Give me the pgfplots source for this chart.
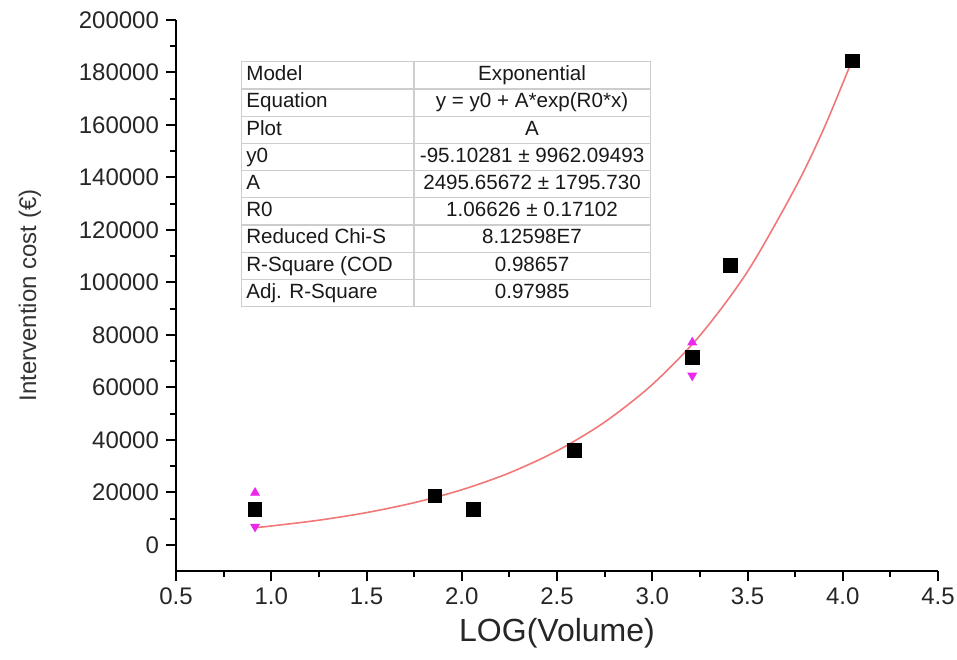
\documentclass[border=0pt]{standalone}
\usepackage{fontspec}
\setmainfont{Liberation Sans}
\usepackage{pgfplots}
\pgfplotsset{compat=1.18}
\usepackage{array}
\usepackage{colortbl}
\definecolor{fitred}{RGB}{240,120,120}
\definecolor{tblgray}{RGB}{205,205,205}
\definecolor{errmag}{RGB}{235,40,235}

% measured points
\pgfplotstableread{
x     y
0.915 13400
1.86  18700
2.06  13400
2.59  35900
3.21  71400
3.41  106500
4.05  184400
}\points

% fitted exponential curve read along its path
\pgfplotstableread{
x     y
0.915 6525
1.00  7153
1.25  9368
1.50  12259
1.75  16033
2.00  20959
2.25  27389
2.50  35787
2.75  46748
3.00  61060
3.25  79740
3.50  104123
3.75  135945
3.90  158500
4.04  183000
}\fit

\newcommand{\rs}{\rule[-3.8pt]{0pt}{13pt}}
\newcommand{\cc}[1]{\makebox[\linewidth][c]{#1}}

\begin{document}
\begin{tikzpicture}
\begin{axis}[
  scale only axis,
  width=381pt, height=275.5pt,
  xmin=0.5, xmax=4.5, ymin=-10000, ymax=200000,
  axis x line=bottom, axis y line=left,
  axis line style={-, line width=1pt},
  tick align=outside,
  xtick={0.5,1.0,1.5,2.0,2.5,3.0,3.5,4.0,4.5},
  ytick={0,20000,40000,60000,80000,100000,120000,140000,160000,180000,200000},
  minor x tick num=1, minor y tick num=1,
  major tick length=5pt, minor tick length=3pt,
  every tick/.style={line width=1pt, black},
  scaled y ticks=false,
  /pgf/number format/assume math mode=true,
  tick label style={font=\fontsize{12}{14}\selectfont, text=black!85},
  x tick label style={/pgf/number format/.cd, fixed, fixed zerofill, precision=1},
  y tick label style={/pgf/number format/.cd, fixed, 1000 sep={}},
  xlabel={LOG(Volume)}, ylabel={Intervention cost (€)},
  xlabel style={font=\fontsize{16}{18}\selectfont, text=black!85},
  ylabel style={font=\fontsize{12}{14}\selectfont, text=black!80},
  ylabel shift=12pt,
  clip=false,
]
\addplot[fitred, line width=0.8pt, no markers, smooth] table[x=x, y=y] {\fit};
\addplot[only marks, mark=square*, mark size=3.4pt, black] table[x=x, y=y] {\points};
\addplot[only marks, mark=triangle*, mark size=2.5pt, errmag] coordinates {(0.915,19800) (3.21,77100)};
\addplot[only marks, mark=triangle*, mark size=2.5pt, errmag, mark options={rotate=180}] coordinates {(0.915,6900) (3.21,64500)};
\node[anchor=north west, inner sep=0pt, font=\fontsize{10.3}{12}\selectfont, text=black!90]
  at (rel axis cs:0.085,0.926) {%
  \arrayrulecolor{tblgray}\setlength\tabcolsep{2pt}\setlength\arrayrulewidth{0.6pt}%
  \begin{tabular}{|p{81.5pt}|>{\centering\arraybackslash}p{113.5pt}|}
  \hline
  \rs Model & \cc{Exponential} \\ \hline
  \rs Equation & \cc{y = y0 + A*exp(R0*x)} \\ \hline
  \rs Plot & \cc{A} \\ \hline
  \rs y0 & \cc{-95.10281 ± 9962.09493} \\ \hline
  \rs A & \cc{2495.65672 ± 1795.730} \\ \hline
  \rs R0 & \cc{1.06626 ± 0.17102} \\ \hline
  \rs Reduced Chi-S & \cc{8.12598E7} \\ \hline
  \rs R-Square (COD & \cc{0.98657} \\ \hline
  \rs Adj. R-Square & \cc{0.97985} \\ \hline
  \end{tabular}};
\coordinate (bl) at (rel axis cs:0,0);
\coordinate (tr) at (rel axis cs:1,1);
\end{axis}
\pgfresetboundingbox
\path[use as bounding box] ([shift={(-88pt,-44pt)}]bl) rectangle ([shift={(9.5pt,10pt)}]tr);
\end{tikzpicture}
\end{document}
